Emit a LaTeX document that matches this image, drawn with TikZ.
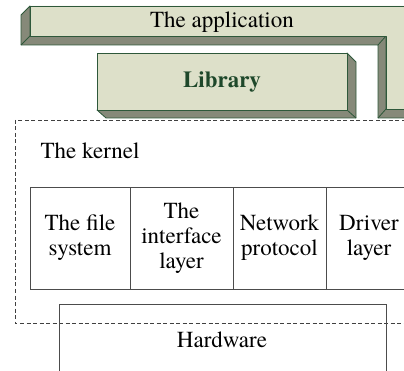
\documentclass[tikz,border=0pt]{standalone}
\usepackage{fontspec}
\setmainfont{texgyretermes}[Extension=.otf,UprightFont=*-regular,BoldFont=*-bold,ItalicFont=*-italic,BoldItalicFont=*-bolditalic]
\usetikzlibrary{positioning}

\definecolor{facegreen}{RGB}{221,224,201}
\definecolor{sidegray}{RGB}{134,137,121}
\definecolor{edgegreen}{RGB}{46,88,58}
\definecolor{libgreen}{RGB}{30,72,42}

\begin{document}
\begin{tikzpicture}[x=1pt,y=-1pt,font=\rmfamily\fontsize{23}{25}\selectfont,
	front/.style={fill=facegreen,draw=edgegreen,line width=0.8pt,line join=round},
	side/.style={fill=sidegray,draw=edgegreen,line width=0.8pt,line join=round},
	cell/.style={draw=black!70,line width=0.8pt,outer sep=0pt,inner sep=0pt,minimum height=102pt,align=center}]
	\useasboundingbox (0,0) rectangle (404,371);

	% the application, seen from below left
	\def\appbottom{36}
	\def\appleg{386}
	\fill[side] (30,6) -- (21,15) -- (21,{\appbottom+9}) -- ({\appleg-8},{\appbottom+9}) -- ({\appleg-8},118) -- (420,118) -- (420,109) -- (\appleg,109) -- (\appleg,\appbottom) -- (30,\appbottom) -- cycle;
	\draw[edgegreen,line width=0.8pt] (30,\appbottom) -- (21,{\appbottom+9});
	\draw[edgegreen,line width=0.8pt] (\appleg,\appbottom) -- ({\appleg-8},{\appbottom+9});
	\draw[edgegreen,line width=0.8pt] (\appleg,109) -- ({\appleg-8},118);
	\fill[front] (30,6) -- (420,6) -- (420,109) -- (\appleg,109) -- (\appleg,\appbottom) -- (30,\appbottom) -- cycle;
	\node[anchor=base] (app) at (222,28) {The application};

	% the library, seen from below right
	\fill[side] (347,53) -- (356,62) -- (356,118) -- (106,118) -- (97,110) -- (347,110) -- cycle;
	\draw[edgegreen,line width=0.8pt] (347,110) -- (356,118);
	\fill[front] (97,53) rectangle (347,110);
	\node[anchor=base,text=libgreen,font=\rmfamily\fontsize{23}{25}\selectfont\bfseries] (lib) at (222,88) {Library};

	% kernel
	\draw[black!75,line width=0.8pt,dash pattern=on 4pt off 2.5pt] (15,120) rectangle (420,323);
	\node[anchor=base west] (kernel) at (37,159) {The kernel};

	\node[cell,minimum width=100pt,anchor=north west] (fs) at (30,187) {The file\\system};
	\node[cell,minimum width=103pt,right=0pt of fs] (iface) {The\\interface\\layer};
	\node[cell,minimum width=93pt,right=0pt of iface] (net) {Network\\protocol};
	\node[cell,minimum width=86pt,right=0pt of net] (drv) {Driver\\layer};

	% hardware
	\draw[black!70,line width=0.8pt] (59,304) rectangle (386,390);
	\node[anchor=base] (hw) at (222,347) {Hardware};
\end{tikzpicture}
\end{document}
